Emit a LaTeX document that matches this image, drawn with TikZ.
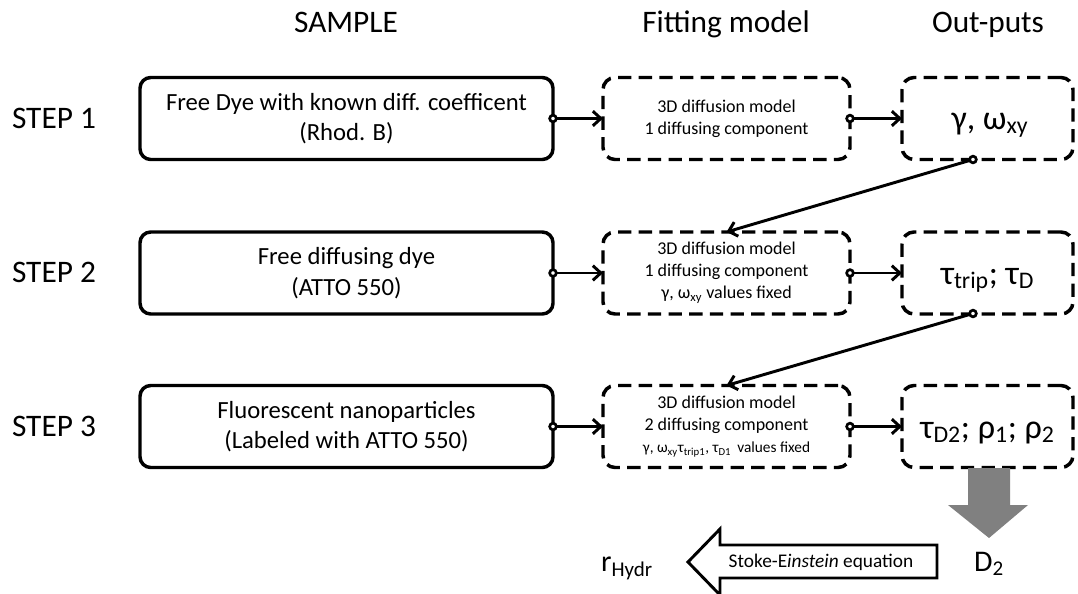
\documentclass[tikz,border=0pt]{standalone}
\usepackage{fontspec}
\setmainfont{Carlito}
\usetikzlibrary{arrows.meta,calc}
\begin{document}
\begin{tikzpicture}[x=0.75pt,y=-0.75pt,
 every node/.style={inner sep=0pt, outer sep=0pt},
 title/.style={font=\fontsize{23.5}{28}\selectfont, anchor=base},
 steplabel/.style={font=\fontsize{23.5}{28}\selectfont, anchor=base},
 samplebox/.style={draw, line width=2.6pt, rounded corners=8pt, minimum width=309.75pt, minimum height=61.5pt, align=center, font=\fontsize{18.5}{23}\selectfont},
 fitbox/.style={draw, line width=2.6pt, dash pattern=on 10pt off 5.5pt, rounded corners=9pt, minimum width=185.25pt, minimum height=61.5pt, align=center, font=\fontsize{13.5}{16.5}\selectfont},
 outbox/.style={fitbox, minimum width=128.25pt},
 outtext/.style={font=\fontsize{25.5}{30}\selectfont, anchor=base},
 conn/.style={line width=2.2pt, -{Straight Barb[length=6pt,width=11pt]}},
 dot/.style={circle, draw, fill=white, line width=2pt, minimum size=5pt},
 biglabel/.style={font=\fontsize{22.5}{26}\selectfont, anchor=base},
 ]
\useasboundingbox (0,0) rectangle (1078,593);

% titles
\node[title] (tS) at (346,32) {SAMPLE};
\node[title] (tF) at (726,32) {Fitting model};
\node[title] (tO) at (988,32) {Out-puts};

% step labels
\node[steplabel] (st1) at (54,128) {STEP 1};
\node[steplabel] (st2) at (54,282.5) {STEP 2};
\node[steplabel] (st3) at (54,436) {STEP 3};

% sample boxes
\node[samplebox] (s1) at (346.5,118.5) {Free Dye with known diff. coefficent\\(Rhod. B)};
\node[samplebox] (s2) at (346.5,273) {Free diffusing dye\\(ATTO 550)};
\node[samplebox] (s3) at (346.5,426.5) {Fluorescent nanoparticles\\(Labeled with ATTO 550)};

% fitting boxes
\node[fitbox] (f1) at (726.5,118.5) {3D diffusion model\\1 diffusing component};
\node[fitbox] (f2) at (726.5,273) {3D diffusion model\\1 diffusing component\\γ, ω\textsubscript{xy} values fixed};
\node[fitbox] (f3) at (726.5,426.5) {3D diffusion model\\2 diffusing component\\{\fontsize{11.5}{14}\selectfont γ, ω\textsubscript{xy}τ\textsubscript{trip1}, τ\textsubscript{D1}\, values fixed}};

% output boxes
\node[outbox] (o1) at (987.5,118.5) {};
\node[outbox] (o2) at (987.5,273) {};
\node[outbox] (o3) at (987.5,426.5) {};
\node[outtext] (o1t) at (990,129) {γ, ω\textsubscript{xy}};
\node[outtext] (o2t) at (987.5,284) {τ\textsubscript{trip}; τ\textsubscript{D}};
\node[outtext] (o3t) at (987.5,438) {τ\textsubscript{D2}; ρ\textsubscript{1}; ρ\textsubscript{2}};

% horizontal connectors
\foreach \i in {1,2,3}{
  \draw[conn] (s\i.east) -- (f\i.west);
  \draw[conn] (f\i.east) -- (o\i.west);
  \node[dot] (ds\i) at (s\i.east) {};
  \node[dot] (df\i) at (f\i.east) {};
}

% diagonal connectors
\coordinate (o1b) at (973,159.5);
\coordinate (o2b) at (973,313.5);
\draw[conn] (o1b) -- (f2.north);
\draw[conn] (o2b) -- (f3.north);
\node[dot] (do1) at (o1b) {};
\node[dot] (do2) at (o2b) {};

% gray down arrow
\fill[gray] (968,468) -- (1010,468) -- (1010,505) -- (1028,505) -- (989,538) -- (948,505) -- (968,505) -- cycle;

% Stoke-Einstein block arrow
\draw[line width=2.2pt, fill=white, line join=miter] (937,545) -- (720,545) -- (720,529) -- (688,562) -- (720,595) -- (720,578) -- (937,578) -- cycle;
\node[font=\fontsize{14.5}{17}\selectfont, anchor=base] (se) at (821,567) {Stoke-E\textit{instein} equation};

% bottom labels
\node[biglabel] (rh) at (627,571) {r\textsubscript{Hydr}};
\node[biglabel] (d2) at (989,571) {D\textsubscript{2}};
\end{tikzpicture}
\end{document}
